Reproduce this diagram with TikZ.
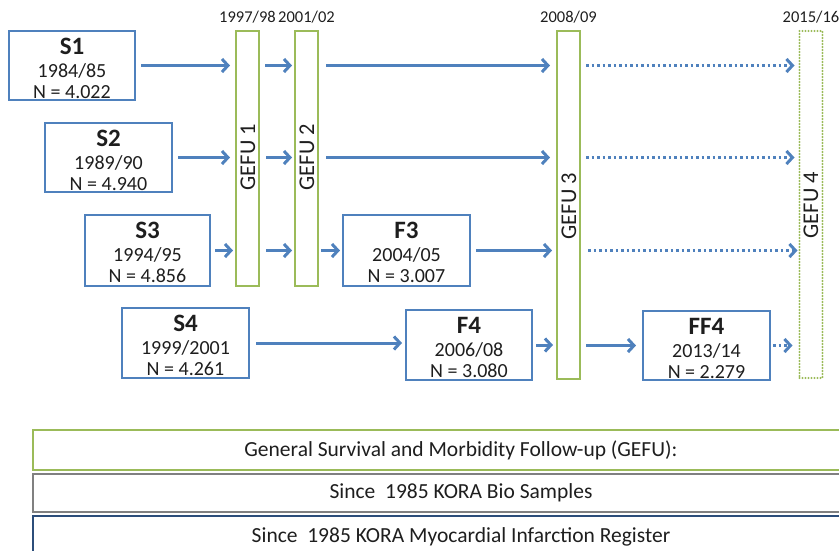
\documentclass[tikz,border=0pt]{standalone}
\usepackage{fontspec}
\setmainfont{Carlito}
\usetikzlibrary{arrows.meta,calc}
\definecolor{kblue}{RGB}{79,129,189}
\definecolor{kgreen}{RGB}{155,187,89}
\definecolor{kgray}{RGB}{128,128,128}
\definecolor{kdark}{RGB}{44,77,122}
\definecolor{ktext}{RGB}{30,30,30}
\newcommand\fsz[1]{\fontsize{#1}{#1}\selectfont}
\tikzset{
  txt/.style={text=ktext, inner sep=0, outer sep=0},
  cbox/.style={draw=kblue, line width=2.3pt, inner sep=0, outer sep=0},
  gbar/.style={draw=kgreen, line width=2.3pt, inner sep=0, outer sep=0, minimum width=23},
  gbarfut/.style={gbar, line cap=round, dash pattern=on 0pt off 3pt},
  gtxt/.style={txt, rotate=90, font=\fsz{22.5}},
  yeartxt/.style={txt, font=\fsz{16.5}, anchor=base},
  arr/.style={draw=kblue, line width=3pt, -{Straight Barb[length=6pt,width=13pt]}},
  darr/.style={arr, dash pattern=on 2.5pt off 3pt},
  band/.style={line width=2.5pt, inner sep=0, outer sep=0, minimum width=856, text=ktext, font=\fsz{21.5}}
}
\newcommand\cohort[8]{%
  \node[cbox, minimum width={#4-#2}, minimum height={#5-#3}] (#1) at ({(#2+#4)/2},{(#3+#5)/2}) {};
  \node[txt, font=\fsz{25}\bfseries, anchor=base] (#1t) at ([yshift=-23]#1.north) {#6};
  \node[txt, font=\fsz{20}, anchor=base] (#1y) at ([yshift=-46]#1.north) {#7};
  \node[txt, font=\fsz{20}, anchor=base] (#1n) at ([yshift=-67]#1.north) {#8};
}
\begin{document}
\begin{tikzpicture}[x=1pt,y=-1pt]
\useasboundingbox (0,0) rectangle (839,550);
\clip (0,0) rectangle (839,550);
% cohort boxes
\cohort{s1}{9}{31}{135}{100}{S1}{1984/85}{N = 4.022}
\cohort{s2}{45}{123}{172}{192}{S2}{1989/90}{N = 4.940}
\cohort{s3}{85}{215}{210}{286}{S3}{1994/95}{N = 4.856}
\cohort{s4}{122}{308}{249}{378}{S4}{1999/2001}{N = 4.261}
\cohort{f3}{343}{215}{470}{286}{F3}{2004/05}{N = 3.007}
\cohort{f4}{406}{310}{532}{380}{F4}{2006/08}{N = 3.080}
\cohort{ff4}{643}{311}{770}{380}{FF4}{2013/14}{N = 2.279}
% GEFU bars
\node[gbar, minimum height=255] (g1) at (247.5,158.5) {};
\node[gbar, minimum height=255] (g2) at (306.5,158.5) {};
\node[gbar, minimum height=348] (g3) at (568.5,205) {};
\node[gbarfut, minimum height=347] (g4) at (811,204.5) {};
\node[gtxt] (g1t) at (248,157) {GEFU 1};
\node[gtxt] (g2t) at (307,157) {GEFU 2};
\node[gtxt] (g3t) at (569,206) {GEFU 3};
\node[gtxt] (g4t) at (811,205) {GEFU 4};
\node[yeartxt] (y1) at ([yshift=9]g1.north) {1997/98};
\node[yeartxt] (y2) at ([yshift=9]g2.north) {2001/02};
\node[yeartxt] (y3) at ([yshift=9]g3.north) {2008/09};
\node[yeartxt] (y4) at ([yshift=9]g4.north) {2015/16};
% row 1
\draw[arr, shorten <=6pt, shorten >=6pt] (s1.east) -- (s1.east -| g1.west);
\draw[arr, shorten <=6pt, shorten >=3pt] (s1.east -| g1.east) -- (s1.east -| g2.west);
\draw[arr, shorten <=8pt, shorten >=7pt] (s1.east -| g2.east) -- (s1.east -| g3.west);
\draw[darr, shorten <=6pt, shorten >=5pt] (s1.east -| g3.east) -- (s1.east -| g4.west);
% row 2
\draw[arr, shorten <=6pt, shorten >=6pt] (s2.east) -- (s2.east -| g1.west);
\draw[arr, shorten <=7pt, shorten >=3pt] (s2.east -| g1.east) -- (s2.east -| g2.west);
\draw[arr, shorten <=8pt, shorten >=7pt] (s2.east -| g2.east) -- (s2.east -| g3.west);
\draw[darr, shorten <=6pt, shorten >=5pt] (s2.east -| g3.east) -- (s2.east -| g4.west);
% row 3
\draw[arr, shorten <=5pt, shorten >=3pt] (s3.east) -- (s3.east -| g1.west);
\draw[arr, shorten <=7pt, shorten >=3pt] (s3.east -| g1.east) -- (s3.east -| g2.west);
\draw[arr, shorten <=3pt, shorten >=3pt] (f3.west -| g2.east) -- (f3.west);
\draw[arr, shorten <=6pt, shorten >=5pt] (f3.east) -- (f3.east -| g3.west);
\draw[darr, shorten <=8pt, shorten >=2pt] (f3.east -| g3.east) -- (f3.east -| g4.west);
% row 4
\draw[arr, shorten <=7pt, shorten >=4pt] (s4.east) -- (s4.east -| f4.west);
\draw[arr, shorten <=4pt, shorten >=4pt] (f4.east) -- (f4.east -| g3.west);
\draw[arr, shorten <=6pt, shorten >=7pt] (ff4.west -| g3.east) -- (ff4.west);
\draw[darr, shorten <=3pt, shorten >=7pt] (ff4.east) -- (ff4.east -| g4.west);
% bands
\node[band, draw=kgreen, minimum height=40] (b1) at (461,450) {General Survival and Morbidity Follow-up (GEFU):};
\node[band, draw=kgray, minimum height=38] (b2) at (461,493) {Since\ \ 1985 KORA Bio Samples};
\node[band, draw=kdark, minimum height=42] (b3) at (461,537) {Since\ \ 1985 KORA Myocardial Infarction Register};
\end{tikzpicture}
\end{document}
